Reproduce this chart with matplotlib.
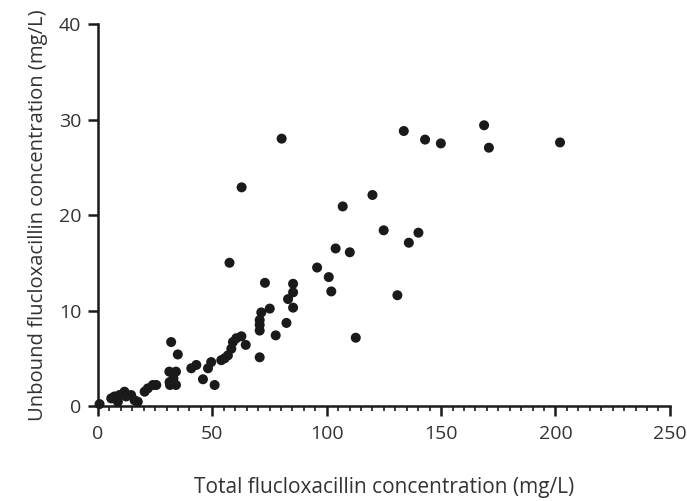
import matplotlib
matplotlib.use("Agg")
import matplotlib.pyplot as plt
from matplotlib.ticker import MultipleLocator

total = [0.7, 5.8, 7.2, 8.7, 9.4, 11.6, 12.3, 14.5, 16.0, 17.4, 20.4, 21.8, 24.0, 25.5,
         31.2, 31.3, 32.0, 34.1, 31.5, 34.1, 33.0, 34.9, 40.8, 43.0, 45.9, 48.1, 49.5,
         51.0, 53.9, 55.4, 56.8, 57.5, 58.3, 59.0, 60.5, 62.7, 62.8, 64.6, 70.7, 70.7,
         70.7, 70.7, 71.4, 73.0, 75.1, 77.7, 80.3, 82.4, 83.1, 85.3, 85.3, 85.3, 95.8,
         100.9, 102.0, 103.9, 107.0, 110.1, 112.7, 120.0, 124.9, 130.9, 133.7, 135.9,
         140.1, 143.0, 149.9, 168.8, 170.9, 202.0]
unbound = [0.2, 0.8, 1.0, 0.45, 1.15, 1.5, 1.0, 1.15, 0.6, 0.45, 1.5, 1.85, 2.2, 2.2,
           3.6, 2.5, 6.7, 3.6, 2.2, 2.2, 2.9, 5.4, 3.95, 4.3, 2.8, 3.95, 4.6,
           2.2, 4.8, 5.0, 5.3, 15.0, 6.0, 6.7, 7.1, 7.3, 22.9, 6.4, 5.1, 7.9,
           8.5, 9.0, 9.8, 12.9, 10.2, 7.4, 28.0, 8.7, 11.2, 10.3, 11.9, 12.8, 14.5,
           13.5, 12.0, 16.5, 20.9, 16.1, 7.15, 22.1, 18.4, 11.6, 28.8, 17.1,
           18.15, 27.9, 27.5, 29.4, 27.05, 27.6]

x_ticks = [0, 50, 100, 150, 200, 250]
y_ticks = [0, 10, 20, 30, 40]

plt.rcParams['font.family'] = ['Open Sans', 'DejaVu Sans']

fig = plt.figure(figsize=(6.87, 5.01), dpi=100)
ax = fig.add_axes([0.1426, 0.1896, 0.8324, 0.7624])

ax.scatter(total, unbound, s=52, color='#1a1a1a', edgecolors='none', zorder=3, clip_on=False)

ax.set_xlim(0, 250)
ax.set_ylim(0, 40)
ax.set_xticks(x_ticks)
ax.set_yticks(y_ticks)
ax.xaxis.set_minor_locator(MultipleLocator(5))

for s in ['top', 'right']:
    ax.spines[s].set_visible(False)
for s in ['left', 'bottom']:
    ax.spines[s].set_linewidth(1.8)
    ax.spines[s].set_color('#1a1a1a')

ax.tick_params(axis='both', which='major', length=7, width=1.8, labelsize=14,
               colors='#1a1a1a', labelcolor='#333333', pad=5)
ax.tick_params(axis='x', which='major', pad=7)
ax.tick_params(axis='x', which='minor', length=3.5, width=1.2, colors='#1a1a1a')

ax.set_xlabel('Total flucloxacillin concentration (mg/L)', fontsize=15, color='#333333', labelpad=24)
ax.set_ylabel('Unbound flucloxacillin concentration (mg/L)', fontsize=14.6, color='#333333', labelpad=8)

fig.savefig('out.png', dpi=100)
